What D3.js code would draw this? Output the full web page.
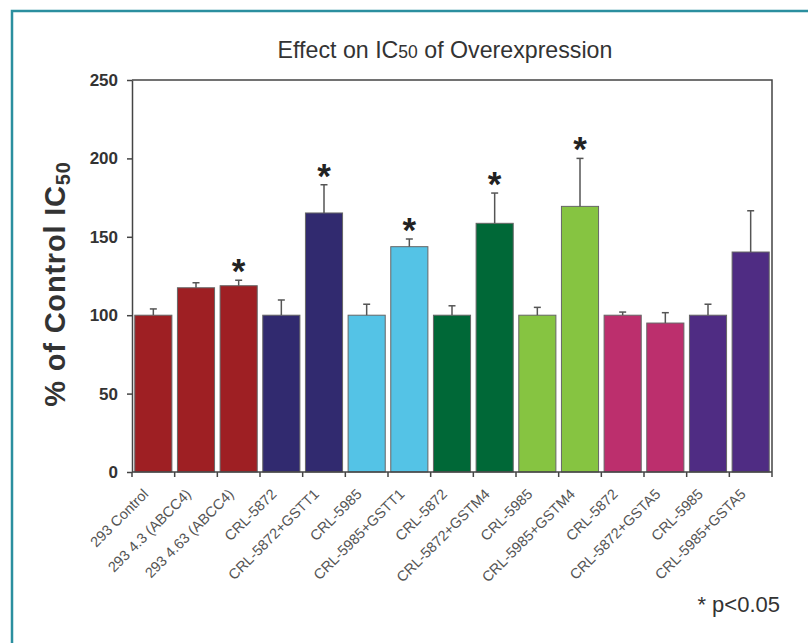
<!DOCTYPE html>
<html>
  <head>
    <meta charset="utf-8">
    <title>Effect on IC50 of Overexpression</title>
    <script src="https://cdn.jsdelivr.net/npm/d3@7"></script>
    <style>
      body { margin: 0; background: #fff; }
      svg { display: block; font-family: "Liberation Sans", Arial, sans-serif; }
    </style>
  </head>
  <body>
    <svg id="chart" width="808" height="643"></svg>

    <script>
      // data
      const labels = [
        "293 Control", "293 4.3 (ABCC4)", "293 4.63 (ABCC4)",
        "CRL-5872", "CRL-5872+GSTT1", "CRL-5985", "CRL-5985+GSTT1",
        "CRL-5872", "CRL-5872+GSTM4", "CRL-5985", "CRL-5985+GSTM4",
        "CRL-5872", "CRL-5872+GSTA5", "CRL-5985", "CRL-5985+GSTA5"
      ];
      const values = [100, 117.5, 118.8, 100, 165.2, 100, 143.7, 100, 158.6, 100, 169.4, 100, 95, 100, 140.3];
      const errors = [4, 3.2, 3.5, 9.7, 18, 7, 4.9, 6, 19.3, 5, 30.6, 2, 6.6, 7, 26.3];
      const significant = [false, false, true, false, true, false, true, false, true, false, true, false, false, false, false];
      const colours = [
        "#9e1f23", "#9e1f23", "#9e1f23",
        "#312a6f", "#312a6f", "#54c3e6", "#54c3e6",
        "#006837", "#006837", "#86c441", "#86c441",
        "#bc2f6d", "#bc2f6d", "#4f2c83", "#4f2c83"
      ];
      const yTicks = [0, 50, 100, 150, 200, 250];

      // elements
      const svg = d3.select("#chart");
      const plotL = 132, plotR = 772, plotT = 80, plotB = 472;

      const x = d3.scaleBand()
        .domain(d3.range(labels.length))
        .range([plotL, plotR])
        .paddingInner(0.13)
        .paddingOuter(0.065);
      const y = d3.scaleLinear()
        .domain([0, 250])
        .range([plotB, plotT]);
      const cx = function(i) { return x(i) + x.bandwidth() / 2; };

      // teal frame
      svg.append("path")
        .attr("d", "M12,643 V11 H808")
        .attr("fill", "none")
        .attr("stroke", "#2b8f9f")
        .attr("stroke-width", 2.5);

      // title
      const title = svg.append("text")
        .attr("x", 445)
        .attr("y", 58)
        .attr("text-anchor", "middle")
        .attr("font-size", 23.2)
        .attr("fill", "#333");
      title.append("tspan").text("Effect on IC");
      title.append("tspan").attr("font-size", 17.5).text("50");
      title.append("tspan").text(" of Overexpression");

      // bars
      svg.append("g").selectAll("rect")
        .data(values)
        .enter().append("rect")
          .attr("x", function(d, i) { return x(i); })
          .attr("y", function(d) { return y(d); })
          .attr("width", x.bandwidth())
          .attr("height", function(d) { return y(0) - y(d); })
          .attr("fill", function(d, i) { return colours[i]; })
          .attr("stroke", "#666")
          .attr("stroke-width", 1);

      // error bars (upper only)
      const errG = svg.append("g")
        .attr("stroke", "#555")
        .attr("stroke-width", 1.5);
      values.forEach(function(d, i) {
        errG.append("line")
          .attr("x1", cx(i)).attr("x2", cx(i))
          .attr("y1", y(d)).attr("y2", y(d + errors[i]));
        errG.append("line")
          .attr("x1", cx(i) - 3.5).attr("x2", cx(i) + 3.5)
          .attr("y1", y(d + errors[i])).attr("y2", y(d + errors[i]));
      });

      // significance stars
      svg.append("g").selectAll("text")
        .data(d3.range(values.length).filter(function(i) { return significant[i]; }))
        .enter().append("text")
          .attr("x", function(i) { return cx(i); })
          .attr("y", function(i) { return y(values[i] + errors[i]) + 3; })
          .attr("text-anchor", "middle")
          .attr("font-size", 35)
          .attr("font-weight", "bold")
          .attr("fill", "#222")
          .text("*");

      // frame lines
      svg.append("path")
        .attr("d", "M" + plotL + "," + plotT + " H" + plotR + " V" + plotB)
        .attr("fill", "none")
        .attr("stroke", "#444")
        .attr("stroke-width", 1.5);

      // y axis
      const yAxis = d3.axisLeft(y)
        .tickValues(yTicks)
        .tickSize(5)
        .tickSizeOuter(0);
      const yG = svg.append("g")
        .attr("transform", "translate(" + plotL + ",0)")
        .call(yAxis);
      yG.selectAll("text")
        .attr("font-size", 17)
        .attr("font-weight", "bold")
        .attr("font-family", "Liberation Sans, Arial, sans-serif")
        .attr("fill", "#333")
        .attr("x", -14);
      yG.selectAll(".domain, .tick line").attr("stroke", "#444").attr("stroke-width", 1.5);

      // x baseline with boundary ticks
      const boundaries = d3.range(labels.length + 1).map(function(i) {
        return plotL + i * x.step();
      });
      const xG = svg.append("g")
        .attr("stroke", "#444")
        .attr("stroke-width", 1.5);
      xG.append("line")
        .attr("x1", plotL).attr("x2", plotR)
        .attr("y1", plotB).attr("y2", plotB);
      xG.selectAll("line.tick")
        .data(boundaries)
        .enter().append("line")
          .attr("class", "tick")
          .attr("x1", function(d) { return d; })
          .attr("x2", function(d) { return d; })
          .attr("y1", plotB)
          .attr("y2", plotB + 5);

      // x labels
      svg.append("g").selectAll("text")
        .data(labels)
        .enter().append("text")
          .attr("transform", function(d, i) {
            return "translate(" + (cx(i) - 4) + "," + (plotB + 23) + ") rotate(-45)";
          })
          .attr("text-anchor", "end")
          .attr("font-size", 14.5)
          .attr("fill", "#555")
          .text(function(d) { return d; });

      // y label
      const yLabel = svg.append("text")
        .attr("transform", "translate(65,284) rotate(-90)")
        .attr("text-anchor", "middle")
        .attr("font-size", 29)
        .attr("font-weight", "bold")
        .attr("letter-spacing", 0.8)
        .attr("fill", "#333");
      yLabel.append("tspan").text("% of Control IC");
      yLabel.append("tspan").attr("font-size", 20).attr("dy", 5).text("50");

      // footnote
      svg.append("text")
        .attr("x", 780)
        .attr("y", 612)
        .attr("text-anchor", "end")
        .attr("font-size", 22)
        .attr("fill", "#333")
        .text("* p<0.05");
    </script>
  </body>
</html>
